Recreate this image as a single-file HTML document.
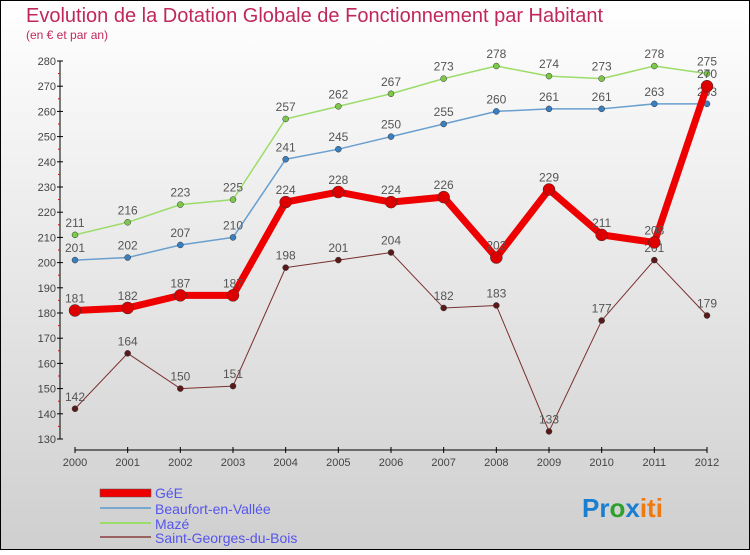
<!DOCTYPE html>
<html><head><meta charset="utf-8"><style>
body{margin:0}
svg text{font-family:"Liberation Sans",sans-serif}
</style></head><body>
<svg id="c" width="750" height="550" xmlns="http://www.w3.org/2000/svg">
<defs><linearGradient id="bg" x1="0" y1="0" x2="0" y2="1"><stop offset="0" stop-color="#ffffff"/><stop offset="1" stop-color="#cfcfcf"/></linearGradient></defs>
<rect x="0.5" y="0.5" width="749" height="549" fill="url(#bg)" stroke="#000"/>
<text x="26" y="22" font-size="20" fill="#c0285a">Evolution de la Dotation Globale de Fonctionnement par Habitant</text>
<text x="26" y="39" font-size="12" fill="#c0285a">(en € et par an)</text>
<g id="axes"></g>
<g id="series"></g>
<g>
<rect x="100" y="489" width="51" height="8" fill="#e00" stroke="#555" stroke-width="0.5"/>
<text x="155" y="498" font-size="14" fill="#5555ee">GéE</text>
<line x1="100" y1="508" x2="151" y2="508" stroke="#7aa7cf" stroke-width="2"/>
<text x="155" y="514" font-size="14" fill="#5555ee">Beaufort-en-Vallée</text>
<line x1="100" y1="523" x2="151" y2="523" stroke="#9cdc6a" stroke-width="2"/>
<text x="155" y="529" font-size="14" fill="#5555ee">Mazé</text>
<line x1="100" y1="537" x2="151" y2="537" stroke="#9a6262" stroke-width="2"/>
<text x="155" y="543" font-size="14" fill="#5555ee">Saint-Georges-du-Bois</text>
</g>
<text x="582" y="517" font-size="26" font-weight="bold"><tspan fill="#1a7fd0">Pr</tspan><tspan fill="#2ea02e">o</tspan><tspan fill="#1a7fd0">x</tspan><tspan fill="#f07a10">iti</tspan></text>
</svg>
<script>
const years=[2000,2001,2002,2003,2004,2005,2006,2007,2008,2009,2010,2011,2012];
const yTicks=[130,140,150,160,170,180,190,200,210,220,230,240,250,260,270,280];
const gee=[181,182,187,187,224,228,224,226,202,229,211,208,270];
const beaufort=[201,202,207,210,241,245,250,255,260,261,261,263,263];
const maze=[211,216,223,225,257,262,267,273,278,274,273,278,275];
const stg=[142,164,150,151,198,201,204,182,183,133,177,201,179];
const NS="http://www.w3.org/2000/svg";
const X=i=>75+i*(632/12);
const Y=v=>439-(v-130)*378/150;
function mk(t,a,p){const e=document.createElementNS(NS,t);for(const k in a)e.setAttribute(k,a[k]);p.appendChild(e);return e;}
const ax=document.getElementById('axes');
let l=mk('line',{x1:60,y1:61,x2:60,y2:439,stroke:'#000'},ax);


yTicks.forEach((v,k)=>{
 let t=mk('line',{x1:57,y1:Y(v),x2:63,y2:Y(v),stroke:'#000'},ax);
 
 
 if(k<yTicks.length-1){
  let m=mk('line',{x1:58,y1:Y(v+5),x2:60,y2:Y(v+5),stroke:'#e00'},ax);
  
  
 }
 let tx=mk('text',{x:56,y:Y(v)+4,'font-size':11,fill:'#444','text-anchor':'end'},ax);
 tx.textContent=v;
 
 
});
l=mk('line',{x1:75,y1:450,x2:707,y2:450,stroke:'#000'},ax);


years.forEach((y,i)=>{
 let t=mk('line',{x1:X(i),y1:447,x2:X(i),y2:453,stroke:'#000'},ax);
 
 
 let tx=mk('text',{x:X(i),y:466,'font-size':11,fill:'#444','text-anchor':'middle'},ax);
 tx.textContent=y;
 
 
});
const sg=document.getElementById('series');
function series(d,name,col,w,r,dot){
 let p=mk('polyline',{points:d.map((v,i)=>X(i)+','+Y(v)).join(' '),fill:'none',stroke:col,'stroke-width':w,'stroke-linejoin':'round'},sg);
 
 
 d.forEach((v,i)=>{
  let c=mk('circle',{cx:X(i),cy:Y(v),r:r,fill:dot,stroke:'#333','stroke-width':0.5},sg);
  
  
  let tx=mk('text',{x:X(i),y:Y(v)-8,'font-size':12,fill:'#555','text-anchor':'middle'},sg);
  tx.textContent=v;
  
  
 });
}
series(stg,'saint-georges','#7a3030',1,3,'#5a1a1a');
series(maze,'maze','#9cdc6a',1.5,3,'#7cc84a');
series(beaufort,'beaufort','#6a9fcf',1.5,3,'#3a7fc0');
series(gee,'gee','#ee0000',7,6,'#dd0000');
</script>
</body></html>
